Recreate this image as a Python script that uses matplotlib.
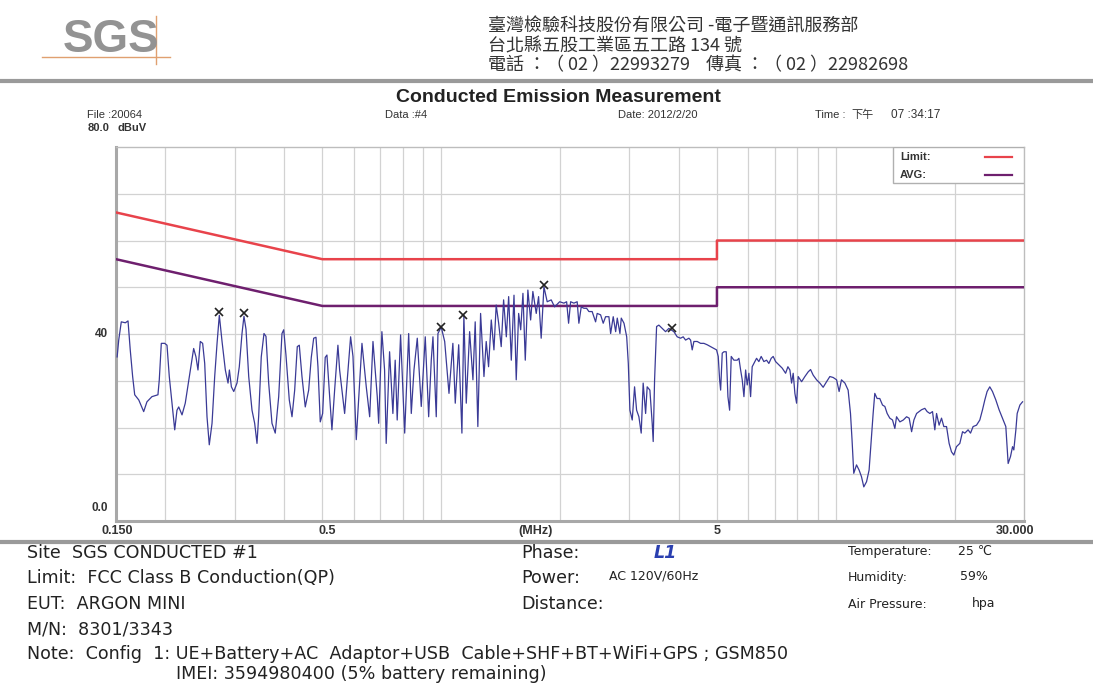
import matplotlib
matplotlib.use("Agg")
import matplotlib.pyplot as plt
from matplotlib.lines import Line2D
from matplotlib.patches import Rectangle
from matplotlib.ticker import NullLocator

# ---------------- data ----------------
freq_a = [0.151, 0.1524, 0.1547, 0.1584, 0.1609, 0.1630, 0.1653, 0.1673, 0.1713, 0.1763,
          0.1797, 0.1850, 0.1916, 0.1931, 0.1954, 0.1993, 0.2020, 0.2047, 0.2080, 0.2113,
          0.2141, 0.2163, 0.2205, 0.2247, 0.2314, 0.2360, 0.2392, 0.2420, 0.2453, 0.2487,
          0.2517, 0.2551, 0.2585, 0.2627, 0.2668, 0.2705, 0.2741, 0.2785, 0.2839, 0.2884,
          0.2907, 0.2941, 0.2982, 0.3039, 0.3080, 0.3129, 0.3165, 0.3203, 0.3254, 0.3317,
          0.3369, 0.3415, 0.3449, 0.3501, 0.3557, 0.3599, 0.3656, 0.3727, 0.3799, 0.3876,
          0.3951, 0.3991, 0.4044, 0.4123, 0.4189, 0.4255, 0.4320, 0.4371, 0.4440, 0.4526,
          0.4617, 0.4688, 0.4754, 0.4818, 0.4874, 0.4940, 0.5009, 0.5085, 0.5136, 0.5205,
          0.5288, 0.5372, 0.5476]
level_a = [35.1, 38.7, 42.6, 42.4, 42.8, 36.6, 30.9, 27.0, 25.9, 23.4,
           25.5, 26.6, 27.0, 30.2, 38.0, 38.0, 37.6, 30.9, 25.2, 19.5,
           23.7, 24.4, 22.7, 25.2, 32.3, 36.9, 35.1, 32.3, 38.4, 38.0,
           33.7, 22.3, 16.3, 20.9, 30.9, 38.0, 44.0, 38.4, 32.3, 29.5,
           32.3, 28.7, 27.7, 29.5, 33.0, 40.1, 43.8, 41.0, 30.9, 23.7,
           20.9, 16.6, 22.5, 35.1, 40.1, 39.5, 29.5, 20.9, 18.8, 26.6,
           40.1, 40.9, 35.5, 25.9, 22.3, 28.0, 37.3, 37.6, 30.9, 24.4,
           28.0, 35.0, 39.1, 39.3, 33.0, 21.2, 23.0, 35.0, 35.5, 28.0,
           19.5, 28.0, 37.6]

freq_b = [0.5531, 0.5695, 0.5897, 0.5979, 0.6095, 0.6301, 0.6461, 0.6591, 0.6719, 0.6889,
          0.6946, 0.7078, 0.7190, 0.7258, 0.7403, 0.7547, 0.7649, 0.7739, 0.7894, 0.8085,
          0.8275, 0.8402, 0.8535, 0.8701, 0.8906, 0.9116, 0.9299, 0.9441, 0.9535, 0.9720,
          0.9816, 1.0006, 1.021, 1.047, 1.071, 1.086, 1.108, 1.129, 1.142, 1.158,
          1.181, 1.204, 1.220, 1.239, 1.259, 1.284, 1.301, 1.319, 1.340, 1.361,
          1.379, 1.399, 1.420, 1.440, 1.463, 1.483, 1.506, 1.530, 1.550, 1.572,
          1.591, 1.612, 1.634, 1.659, 1.686, 1.708, 1.742, 1.766, 1.793, 1.822,
          1.857, 1.901, 1.939, 1.997]
level_b = [32.3, 23.0, 39.4, 35.2, 17.4, 38.0, 28.7, 22.3, 38.4, 26.6,
           20.9, 40.5, 32.3, 16.6, 36.2, 23.0, 34.4, 21.6, 39.8, 18.8,
           40.1, 23.0, 32.3, 39.1, 24.5, 39.4, 22.3, 34.4, 39.4, 22.3,
           40.1, 41.5, 38.4, 27.3, 38.0, 25.2, 37.7, 18.8, 44.0, 25.2,
           40.5, 30.2, 42.6, 20.2, 44.4, 30.9, 38.4, 33.0, 43.0, 36.6,
           46.2, 42.3, 37.3, 47.3, 39.4, 48.0, 34.4, 48.3, 30.2, 44.4,
           40.9, 48.7, 34.4, 49.4, 43.0, 49.1, 44.4, 48.0, 39.1, 50.1,
           46.9, 47.3, 45.8, 46.9]

freq_c = [2.047, 2.080, 2.104, 2.129, 2.170, 2.212, 2.234, 2.265, 2.301, 2.337,
          2.369, 2.414, 2.463, 2.486, 2.536, 2.575, 2.611, 2.662, 2.689, 2.730,
          2.769, 2.795, 2.839, 2.861, 2.907, 2.953, 2.981, 3.009, 3.050, 3.092,
          3.129, 3.171, 3.214, 3.251, 3.298, 3.328, 3.381, 3.427, 3.447, 3.475,
          3.516, 3.563, 3.632, 3.705, 3.777, 3.889, 3.965, 4.044, 4.106, 4.164,
          4.245, 4.288, 4.328, 4.371, 4.456, 4.545, 4.633, 4.723, 4.818, 4.911,
          4.989, 5.038, 5.079, 5.109, 5.157, 5.208, 5.279, 5.331, 5.384, 5.435,
          5.521, 5.628, 5.684, 5.741, 5.795, 5.853, 5.911, 5.966, 6.025, 6.085,
          6.142, 6.203, 6.301, 6.386, 6.473, 6.575, 6.680, 6.770, 6.862, 6.942,
          7.041, 7.178, 7.317, 7.464, 7.565]
level_c = [46.6, 46.9, 42.3, 46.9, 46.6, 46.9, 42.3, 45.8, 45.5, 45.5,
           44.8, 44.8, 42.6, 44.4, 44.1, 42.3, 43.7, 43.7, 40.1, 43.7,
           40.5, 43.4, 40.1, 43.4, 42.3, 39.4, 33.7, 23.7, 21.6, 28.7,
           23.7, 22.3, 18.8, 29.5, 23.0, 28.7, 28.0, 20.9, 17.0, 30.2,
           41.6, 41.9, 41.2, 40.5, 41.2, 40.5, 39.4, 39.1, 39.4, 38.7,
           39.1, 38.7, 36.6, 38.4, 38.4, 38.0, 38.0, 37.7, 37.3, 36.9,
           36.6, 35.2, 30.2, 28.0, 35.9, 36.2, 36.2, 26.6, 23.7, 35.2,
           34.4, 34.4, 34.8, 32.3, 30.2, 26.6, 32.3, 29.1, 31.6, 26.6,
           33.0, 33.7, 34.8, 34.1, 35.2, 34.1, 34.4, 33.7, 34.8, 35.2,
           34.1, 33.4, 32.7, 31.6, 33.0]

freq_d = [7.654, 7.729, 7.802, 7.880, 7.958, 8.033, 8.194, 8.353, 8.515, 8.635,
          8.767, 8.942, 9.116, 9.293, 9.480, 9.663, 9.851, 10.05, 10.20, 10.34,
          10.55, 10.75, 10.90, 11.00, 11.11, 11.29, 11.46, 11.62, 11.78, 11.97,
          12.15, 12.32, 12.44, 12.56, 12.73, 12.93, 13.14, 13.32, 13.50, 13.71,
          13.93, 14.12, 14.26, 14.54, 14.83, 15.12, 15.35, 15.57, 15.78, 16.03,
          16.27, 16.50, 16.82, 17.05, 17.32, 17.59, 17.83, 18.01, 18.28, 18.54,
          18.79, 19.09, 19.38, 19.65, 19.92, 20.23, 20.63, 20.96, 21.24, 21.65,
          21.96, 22.29, 22.74, 23.18, 23.55, 23.87, 24.19, 24.57, 24.96, 25.45,
          25.94, 26.46, 26.98, 27.35, 27.73, 28.06, 28.27, 28.61, 28.83, 29.29,
          29.75]
level_d = [32.3, 29.5, 31.6, 27.3, 25.2, 30.9, 29.8, 30.9, 31.9, 32.4,
           31.2, 30.2, 29.5, 28.6, 29.8, 30.9, 30.7, 30.2, 27.7, 30.2,
           29.5, 28.0, 23.0, 17.3, 10.2, 12.0, 10.9, 9.5, 7.3, 8.4,
           10.9, 18.0, 23.0, 27.3, 26.2, 26.2, 24.8, 24.5, 23.0, 22.0,
           21.6, 19.8, 22.3, 21.2, 21.6, 22.3, 22.0, 19.1, 21.6, 23.0,
           23.4, 23.8, 24.1, 23.4, 23.0, 23.4, 19.5, 23.0, 20.5, 22.0,
           20.2, 20.2, 16.6, 14.8, 14.1, 15.9, 16.6, 19.1, 18.8, 19.5,
           18.8, 20.2, 20.5, 21.6, 23.8, 25.9, 27.7, 28.7, 27.7, 25.9,
           23.8, 22.0, 20.2, 12.3, 13.8, 15.9, 15.2, 19.5, 23.0, 24.8,
           25.5]

limit_freq = [0.15, 0.5, 5.0, 5.0, 30.0]
qp_limit = [66, 56, 56, 60, 60]
avg_limit = [56, 46, 46, 50, 50]

peak_freq = [0.274, 0.317, 1.000, 1.136, 1.822, 3.850]
peak_level = [44.6, 44.4, 41.6, 44.1, 50.4, 41.2]

grid_freq = [0.2, 0.3, 0.4, 0.5, 0.6, 0.7, 0.8, 0.9, 1, 2, 3, 4, 5, 6, 7, 8, 9, 10, 20]
grid_level = [10, 20, 30, 40, 50, 60, 70]

freq_mhz = freq_a + freq_b + freq_c + freq_d
level_dbuv = level_a + level_b + level_c + level_d

# ---------------- figure ----------------
W, H = 1093, 684
fig = plt.figure(figsize=(W / 100, H / 100), dpi=100)
fig.patch.set_facecolor("white")


def fx(x):
    return x / W


def fy(y):
    return 1 - y / H


SANS = ["Liberation Sans", "DejaVu Sans"]
WIDE = ["DejaVu Sans"]
CJK = ["Noto Sans CJK TC", "Liberation Sans"]


def txt(x, y, s, size=8, weight="normal", ha="left", va="center", color="#222222",
        family=SANS, style="normal"):
    fig.text(fx(x), fy(y), s, fontsize=size, fontweight=weight, ha=ha, va=va,
             color=color, family=family, fontstyle=style)


def hline(x0, x1, y, color="#9a9a9a", lw=2.5):
    fig.add_artist(Line2D([fx(x0), fx(x1)], [fy(y), fy(y)], color=color, lw=lw,
                          transform=fig.transFigure))


# header
txt(111, 40, "SGS", size=33, weight="bold", ha="center", color="#939393")
fig.add_artist(Line2D([fx(156), fx(156)], [fy(16), fy(64)], color="#e0a070", lw=1.0,
                      transform=fig.transFigure))
fig.add_artist(Line2D([fx(42), fx(170)], [fy(57), fy(57)], color="#e0a070", lw=1.0,
                      transform=fig.transFigure))

txt(488, 27, "臺灣檢驗科技股份有限公司 -電子暨通訊服務部", size=13, family=CJK,
    color="#333333")
txt(488, 46, "台北縣五股工業區五工路 134 號", size=13, family=CJK, color="#333333")
txt(488, 65, "電話 ：（ 02 ）22993279    傳真 ：（ 02 ）22982698", size=13, family=CJK,
    color="#333333")
hline(0, W, 81, lw=3)

# title block
txt(558, 97, "Conducted Emission Measurement", size=14, weight="bold", ha="center",
    color="#222222")
txt(87, 115, "File :20064", size=8, color="#333333")
txt(385, 115, "Data :#4", size=8, color="#333333")
txt(618, 115, "Date: 2012/2/20", size=8, color="#333333")
txt(815, 115, "Time :", size=8, color="#333333")
txt(851, 115, "下午", size=8, color="#333333", family=CJK)
txt(891, 115, "07 :34:17", size=8.5, color="#333333")
txt(88, 128, "80.0", size=8, weight="bold", color="#333333")
txt(117, 128, "dBuV", size=8, weight="bold", color="#333333")

# ---------------- axes ----------------
ax = fig.add_axes([fx(116), fy(521), fx(1024) - fx(116), fy(147) - fy(521)])
ax.set_xscale("log")
ax.set_xlim(0.15, 30)
ax.set_ylim(0, 80)
ax.xaxis.set_major_locator(NullLocator())
ax.xaxis.set_minor_locator(NullLocator())
ax.yaxis.set_major_locator(NullLocator())
ax.yaxis.set_minor_locator(NullLocator())
for side in ["left", "bottom"]:
    ax.spines[side].set_color("#a8a8a8")
    ax.spines[side].set_linewidth(2.2)
for side in ["top", "right"]:
    ax.spines[side].set_color("#bdbdbd")
    ax.spines[side].set_linewidth(1.0)

ax.vlines(grid_freq, 0, 80, color="#d2d2d2", lw=0.9, zorder=1)
ax.hlines(grid_level, 0.15, 30, color="#d2d2d2", lw=0.9, zorder=1)

ax.plot(limit_freq, qp_limit, color="#e8434b", lw=1.8, zorder=3)
ax.plot(limit_freq, avg_limit, color="#6e1f6e", lw=1.8, zorder=3)
ax.plot(freq_mhz, level_dbuv, color="#3a3a96", lw=0.9, zorder=4)
ax.plot(peak_freq, peak_level, linestyle="none", marker="x", color="#222222",
        markersize=6, markeredgewidth=1.2, zorder=5)

# legend box
ax.add_patch(Rectangle((fx(893), fy(183)), fx(1024) - fx(893), fy(147) - fy(183),
                       transform=fig.transFigure, facecolor="white",
                       edgecolor="#b0b0b0", lw=1.0, zorder=6))
txt(900, 157, "Limit:", size=8, weight="bold", color="#333333")
txt(900, 175, "AVG:", size=8, weight="bold", color="#333333")
fig.add_artist(Line2D([fx(985), fx(1012)], [fy(157), fy(157)], color="#e8434b", lw=1.6,
                      transform=fig.transFigure))
fig.add_artist(Line2D([fx(985), fx(1012)], [fy(175), fy(175)], color="#6e1f6e", lw=1.6,
                      transform=fig.transFigure))

# axis labels
txt(108, 334, "40", size=8.5, weight="bold", ha="right", color="#333333")
txt(108, 508, "0.0", size=8.5, weight="bold", ha="right", color="#333333")
txt(102, 531, "0.150", size=9, weight="bold", color="#333333")
txt(327, 531, "0.5", size=9, weight="bold", ha="center", color="#333333")
txt(536, 531, "(MHz)", size=9, weight="bold", ha="center", color="#333333")
txt(717, 531, "5", size=9, weight="bold", ha="center", color="#333333")
txt(1034, 531, "30.000", size=9, weight="bold", ha="right", color="#333333")

hline(0, W, 542, lw=3)

# info block
txt(27, 553, "Site  SGS CONDUCTED #1", size=12.6, family=WIDE)
txt(27, 578, "Limit:  FCC Class B Conduction(QP)", size=12.6, family=WIDE)
txt(27, 604, "EUT:  ARGON MINI", size=12.6, family=WIDE)
txt(27, 630, "M/N:  8301/3343", size=12.6, family=WIDE)
txt(27, 654, "Note:  Config  1: UE+Battery+AC  Adaptor+USB  Cable+SHF+BT+WiFi+GPS ; GSM850",
    size=12.6, family=WIDE)
txt(176, 674, "IMEI: 3594980400 (5% battery remaining)", size=12.6, family=WIDE)

txt(521, 553, "Phase:", size=12.6, family=WIDE)
txt(654, 553, "L1", size=12.6, weight="bold", style="italic", color="#2a3fb0", family=WIDE)
txt(521, 578, "Power:", size=12.6, family=WIDE)
txt(609, 576, "AC 120V/60Hz", size=9, family=WIDE)
txt(521, 604, "Distance:", size=12.6, family=WIDE)

txt(848, 551, "Temperature:", size=9, family=WIDE)
txt(958, 551, "25 ℃", size=9, family=WIDE)
txt(848, 577, "Humidity:", size=9, family=WIDE)
txt(960, 577, "59%", size=9, family=WIDE)
txt(848, 604, "Air Pressure:", size=9, family=WIDE)
txt(972, 604, "hpa", size=9, family=WIDE)

fig.savefig("out.png", dpi=100)
